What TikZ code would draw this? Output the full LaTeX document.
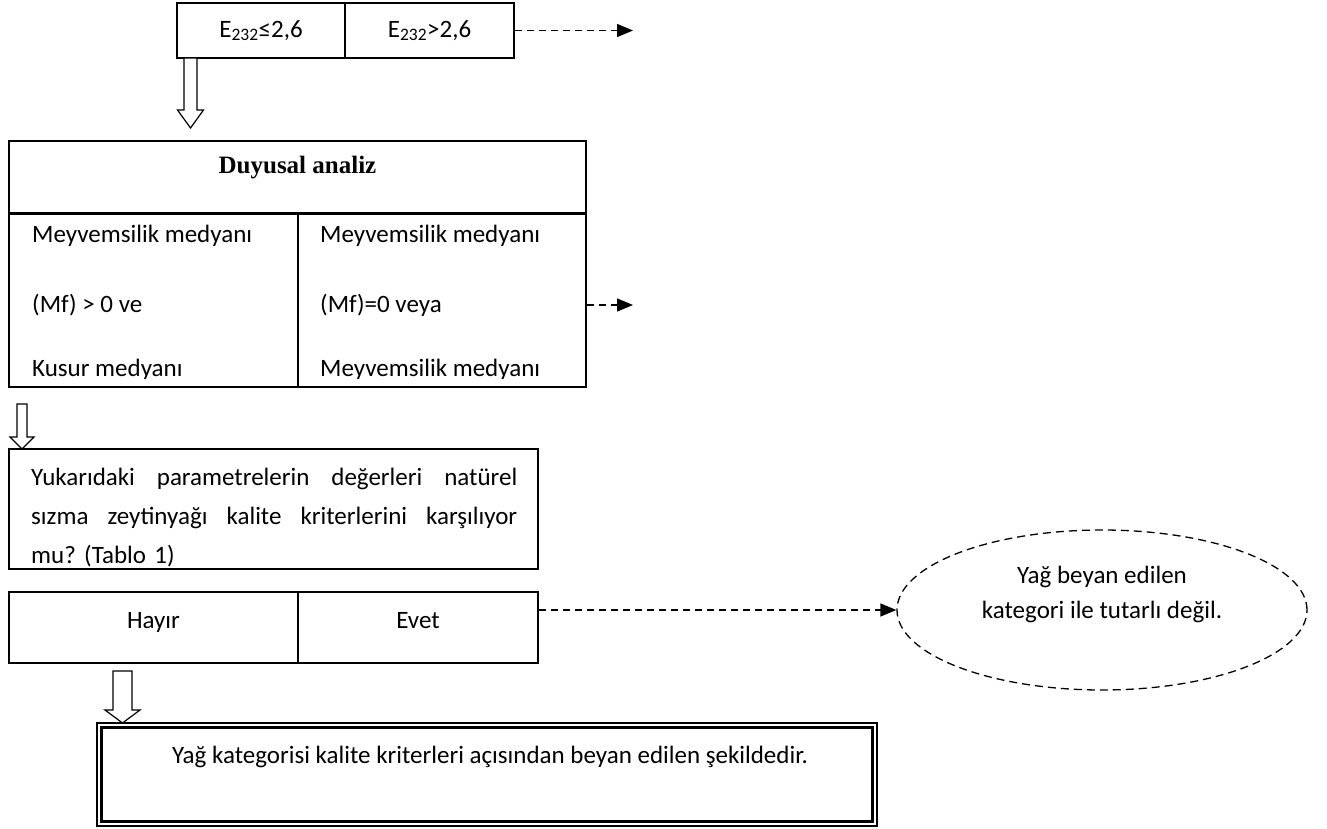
\documentclass[tikz,border=0pt]{standalone}
\usepackage{fontspec}
\setmainfont{Carlito}
\newfontfamily\timesfont{Liberation Serif}
\usetikzlibrary{arrows.meta, shapes.geometric}
\frenchspacing

\tikzset{
  cell/.style={draw, line width=1.3pt, inner sep=0pt},
  celltext/.style={text height=18pt, text depth=16pt},
  dasharrow/.style={dash pattern=on 7pt off 5pt, line width=1.4pt, -{Triangle[length=16pt,width=13pt]}},
  hollow/.style={draw, line width=1.2pt, fill=white},
}
% block arrow: x, top, tip, shaft half width, head half width, head length
\newcommand{\hollowdown}[6]{%
  \draw[hollow] (#1-#4,#2) -- (#1+#4,#2) -- (#1+#4,#3-#6) -- (#1+#5,#3-#6) -- (#1,#3) -- (#1-#5,#3-#6) -- (#1-#4,#3-#6) -- cycle;}

\begin{document}
\begin{tikzpicture}[x=1pt, y=-1pt, font=\fontsize{25}{39}\selectfont]
    \useasboundingbox (0,0) rectangle (1327,829);

    % E232 threshold
    \node[cell, minimum width=168pt, minimum height=55pt] (elow) at (261,30.5) {E\textsubscript{232}≤2,6};
    \node[cell, minimum width=169pt, minimum height=55pt] (ehigh) at (429.5,30.5) {E\textsubscript{232}>2,6};
    \coordinate (eout) at (633,30.5);
    \draw[dasharrow] (ehigh.east) -- (eout);
    \hollowdown{190.5}{58}{128}{6.5}{13}{18}

    % Sensory analysis
    \node[cell, minimum width=577pt, minimum height=72pt] (duyusal) at (297.5,177) {};
    \node[font=\fontsize{25}{30}\timesfont\bfseries] (duyusaltext) at (297.5,168) {Duyusal analiz};
    \node[cell, minimum width=289pt, minimum height=174pt] (mfleft) at (153.5,300) {};
    \node[cell, minimum width=288pt, minimum height=174pt] (mfright) at (442,300) {};
    \draw[line width=2.4pt] (duyusal.south west) -- (duyusal.south east);
    \begin{scope}
        \clip (9,214) rectangle (586,378);
        \foreach \y/\txt [count=\i] in {242/Meyvemsilik medyanı, 312/(Mf) > 0 ve, 376/Kusur medyanı}
            \node[anchor=base west, inner sep=0pt] (left\i) at (32,\y) {\txt};
        \foreach \y/\txt [count=\i] in {242/Meyvemsilik medyanı, 312/(Mf)=0 veya, 376/Meyvemsilik medyanı}
            \node[anchor=base west, inner sep=0pt] (right\i) at (320,\y) {\txt};
    \end{scope}
    \coordinate (mfout) at (633,305);
    \draw[dasharrow] (mfright.east |- mfout) -- (mfout);

    % Question
    \hollowdown{22}{404}{449}{5}{12}{12}
    \node[cell, minimum width=529pt, minimum height=120pt] (question) at (273.5,509) {};
    \node[anchor=west, text width=486pt, align=left, inner sep=0pt] (questiontext) at (31,518)
        {\makebox[486pt]{Yukarıdaki\hfill parametrelerin\hfill değerleri\hfill natürel}\\
         \makebox[486pt]{sızma\hfill zeytinyağı\hfill kalite\hfill kriterlerini\hfill karşılıyor}\\
         mu? (Tablo 1)};

    % Answer
    \node[cell, celltext, minimum width=289pt, minimum height=71pt] (hayir) at (153.5,627.5) {Hayır};
    \node[cell, celltext, minimum width=240pt, minimum height=71pt] (evet) at (418,627.5) {Evet};
    \node[ellipse, draw, dash pattern=on 8pt off 5pt, line width=1.3pt, minimum width=410pt, minimum height=160pt] (claim) at (1102,610) {};
    \node[align=center, font=\fontsize{25}{35}\selectfont] (claimtext) at (1102,594) {Yağ beyan edilen\\kategori ile tutarlı değil.};
    \draw[dasharrow] (evet.east |- claim.west) -- (claim.west);

    % Verdict
    \hollowdown{122.5}{671}{723}{9.5}{17.5}{13}
    \node[cell, line width=1.2pt, minimum width=780pt, minimum height=103pt] (verdict) at (487,774.5) {};
    \draw[line width=2.4pt] ([shift={(5,5)}]verdict.north west) rectangle ([shift={(-5,-5)}]verdict.south east);
    \node (verdicttext) at (490,757) {Yağ kategorisi kalite kriterleri açısından beyan edilen şekildedir.};
\end{tikzpicture}
\end{document}
